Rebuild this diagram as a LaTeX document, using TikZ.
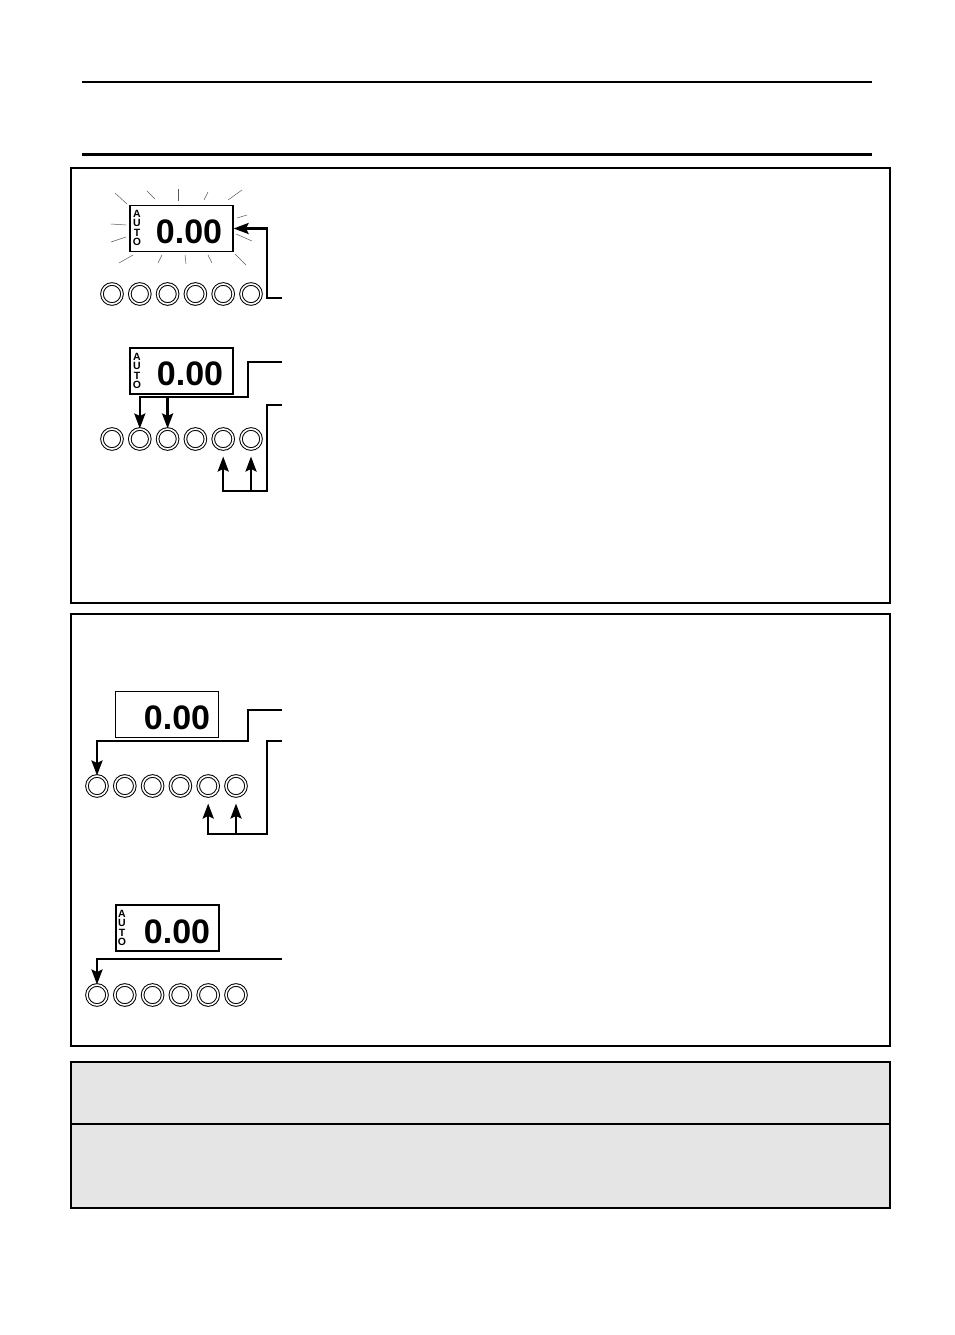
\documentclass[tikz,border=0pt]{standalone}
\usepackage{fontspec}
\setmainfont{Liberation Sans}
\usepackage{xcolor}
\usetikzlibrary{arrows.meta}
\definecolor{notegray}{RGB}{229, 229, 229}
\tikzset{
    display/.style={draw, line width=1.2pt, minimum width=103pt, minimum height=46pt, inner sep=0pt},
    digits/.style={anchor=base, inner sep=0pt, font=\fontsize{34}{34}\selectfont\bfseries},
    autotag/.style={align=center, inner sep=0pt, font=\fontsize{10.5}{9.5}\selectfont\bfseries},
    button/.style={circle, draw, line width=1pt, double, double distance=1.6pt, minimum size=20pt, inner sep=0pt},
    conn/.style={line width=2.5pt},
    tip/.style={-{Stealth[length=15pt, width=11pt, inset=2.5pt]}},
    ray/.style={line width=0.5pt, gray!70!black}
}
\begin{document}
\begin{tikzpicture}[x=1pt, y=-1pt]
    \useasboundingbox (0,0) rectangle (954,1335);

    % Header rules
    \draw[line width=2pt] (82,82) -- (872,82);
    \draw[line width=3pt] (82,154.5) -- (872,154.5);

    % Frames
    \draw[line width=1.3pt] (71,168) rectangle (890,603);
    \draw[line width=1.3pt] (71,614) rectangle (890,1046);
    \draw[line width=2pt, fill=notegray] (71,1062) rectangle (890,1208);
    \draw[line width=1.2pt] (71,1124) -- (890,1124);

    % Panel 1, step 1: flashing display
    \node[display] (disp1) at (181.5,228.5) {};
    \node[autotag] (auto1) at (137,228) {A\\U\\T\\O};
    \node[digits] (num1) at (189,243) {0.00};
    \foreach \xa/\ya/\xb/\yb in {115/193/127/204, 147/191/155/199, 178/189/178/201,
        208/192/204/200, 242/190/228/200, 237/218/247/215, 236/234/252/241,
        235/254/246/265, 208/255/212/263, 185/255/186/264, 162/255/158/263,
        133/255/119/263, 111/224/126/225, 111/242/126/237} {
        \draw[ray] (\xa,\ya) -- (\xb,\yb);
    }
    \foreach \i in {1,...,6} {
        \node[button] (a\i) at ({112+27.8*(\i-1)},294) {};
    }
    \coordinate (in1) at (282,298);
    \draw[conn, tip] (in1) -- (267,298) |- (disp1.east);

    % Panel 1, step 2
    \node[display] (disp2) at (181.5,371) {};
    \node[autotag] (auto2) at (137,371) {A\\U\\T\\O};
    \node[digits] (num2) at (190,385) {0.00};
    \foreach \i in {1,...,6} {
        \node[button] (b\i) at ({112+27.8*(\i-1)},439) {};
    }
    \coordinate (in2) at (282,362);
    \coordinate (j2) at (248,397);
    \draw[conn, tip] (in2) -| (j2) -| (b2.north);
    \draw[conn, tip] (b3 |- j2) -- (b3.north);
    \coordinate (in3) at (282,405);
    \coordinate (j3) at (267,491);
    \draw[conn, tip, shorten >=7pt] (in3) -| (j3) -| (b5.south);
    \draw[conn, tip, shorten >=7pt] (b6 |- j3) -- (b6.south);

    % Panel 2, step 1
    \node[display] (disp3) at (167,714.5) {};
    \node[digits] (num3) at (177,729) {0.00};
    \foreach \i in {1,...,6} {
        \node[button] (c\i) at ({97+27.8*(\i-1)},786) {};
    }
    \coordinate (in4) at (282,710);
    \coordinate (j4) at (248,741);
    \draw[conn, tip] (in4) -| (j4) -| (c1.north);
    \coordinate (in5) at (282,741);
    \coordinate (j5) at (267,834);
    \draw[conn, tip, shorten >=7pt] (in5) -| (j5) -| (c5.south);
    \draw[conn, tip, shorten >=7pt] (c6 |- j5) -- (c6.south);

    % Panel 2, step 2
    \node[display] (disp4) at (167.5,928) {};
    \node[autotag] (auto4) at (122,928) {A\\U\\T\\O};
    \node[digits] (num4) at (177,943) {0.00};
    \foreach \i in {1,...,6} {
        \node[button] (d\i) at ({97+27.8*(\i-1)},995) {};
    }
    \coordinate (in6) at (282,959);
    \draw[conn, tip] (in6) -| (d1.north);
\end{tikzpicture}
\end{document}
